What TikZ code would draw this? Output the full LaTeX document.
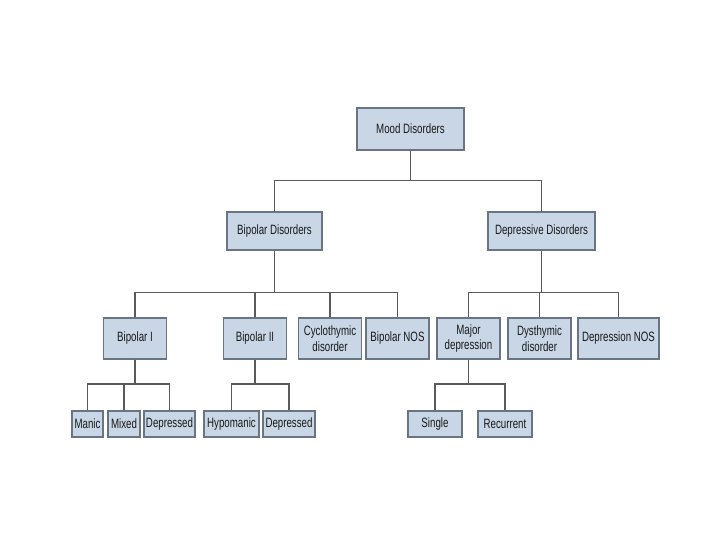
\documentclass[tikz,border=0pt]{standalone}
\usepackage{fontspec}
\setmainfont[FakeStretch=0.72]{Liberation Sans}
\usepackage{xcolor}
\usetikzlibrary{calc,positioning}
\definecolor{boxfill}{RGB}{200,214,230}
\definecolor{boxline}{RGB}{105,117,130}
\definecolor{wire}{RGB}{90,90,90}

\begin{document}
\begin{tikzpicture}[x=1pt, y=-1pt,
  box/.style={draw=boxline, fill=boxfill, line width=1.1pt, inner sep=1pt,
    align=center, font=\fontsize{13.5}{15.5}\selectfont, text=black!90},
  big/.style={box, minimum height=38pt},
  mid/.style={box, minimum width=63pt, minimum height=41pt},
  low/.style={box, minimum height=26pt},
  wire/.style={draw=wire, line width=1.5pt}]
\useasboundingbox (0,0) rectangle (720,540);

\node[big, minimum width=107pt, minimum height=42pt] (MD) at (410.5,129) {Mood Disorders};
\node[big, minimum width=95pt] (BD) at (274.5,231) {Bipolar Disorders};
\node[big, minimum width=107pt] (DD) at (541.5,231) {Depressive Disorders};

\node[mid] (B1) at (135,338.5) {Bipolar I};
\node[mid] (B2) at (255,338.5) {Bipolar II};
\node[mid] (CY) at (330,338.5) {Cyclothymic\\disorder};
\node[mid] (BN) at (397.5,338.5) {Bipolar NOS};
\node[mid] (MJ) at (468.5,338.5) {Major\\depression};
\node[mid] (DY) at (539.5,338.5) {Dysthymic\\disorder};
\node[mid, minimum width=81pt] (DN) at (618.5,338.5) {Depression NOS};

\node[low, minimum width=31pt] (MA) at (87.5,424) {Manic};
\node[low, minimum width=32pt] (MX) at (124,424) {Mixed};
\node[low, minimum width=51pt] (DP) at (169.5,424) {Depressed};
\node[low, minimum width=55pt] (HY) at (231.5,424) {Hypomanic};
\node[low, minimum width=52pt] (DQ) at (289,424) {Depressed};
\node[low, minimum width=54pt] (SI) at (435,424) {Single};
\node[low, minimum width=54pt] (RE) at (505,424) {Recurrent};

% connectors
\foreach \c in {BD,DD} \draw[wire] (MD.south) -- ++(0,30) -| (\c.north);
\foreach \c in {B1,B2,CY,BN} \draw[wire] (BD.south) -- ++(0,42) -| (\c.north);
\foreach \c in {MJ,DY,DN} \draw[wire] (DD.south) -- ++(0,42) -| (\c.north);
\foreach \c in {MA,MX,DP} \draw[wire] (B1.south) -- ++(0,24.5) -| (\c.north);
\foreach \c in {HY,DQ} \draw[wire] (B2.south) -- ++(0,24.5) -| (\c.north);
\foreach \c in {SI,RE} \draw[wire] (MJ.south) -- ++(0,24.5) -| (\c.north);
\end{tikzpicture}
\end{document}
